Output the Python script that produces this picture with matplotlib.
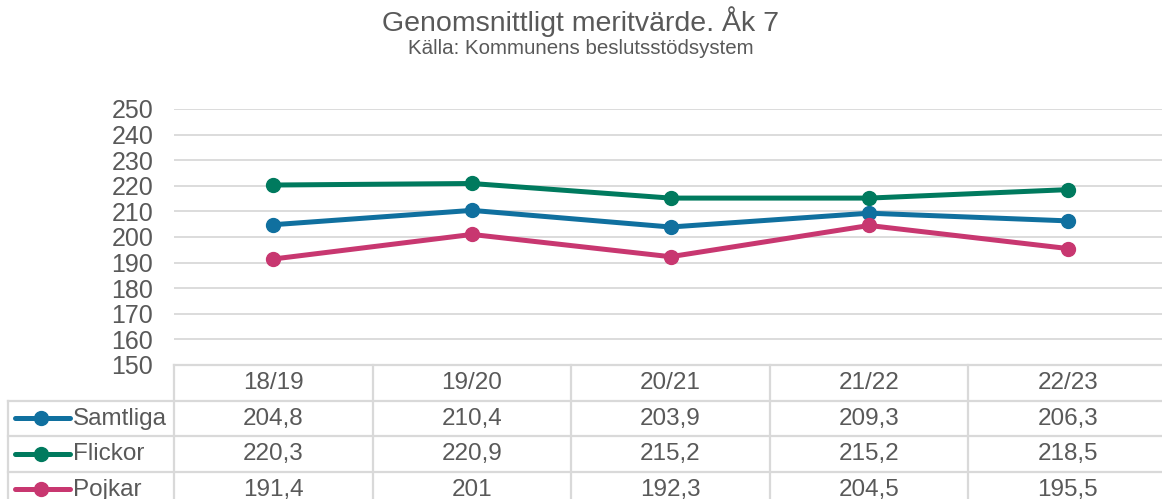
import matplotlib
matplotlib.use('Agg')
import matplotlib.pyplot as plt

plt.rcParams['font.family'] = ['Liberation Sans', 'DejaVu Sans']

years = ['18/19', '19/20', '20/21', '21/22', '22/23']
samtliga = [204.8, 210.4, 203.9, 209.3, 206.3]
flickor = [220.3, 220.9, 215.2, 215.2, 218.5]
pojkar = [191.4, 201, 192.3, 204.5, 195.5]
series_names = ['Samtliga', 'Flickor', 'Pojkar']
colors = ['#10709F', '#007A5E', '#C83770']

txt = '#595959'
grid = '#D9D9D9'

W, H = 1162, 499
fig = plt.figure(figsize=(W / 100, H / 100), dpi=100)

# plot area in pixels
left_px, right_px = 174, 1167
top_px, bot_px = 109, 365
ax = fig.add_axes([left_px / W, (H - bot_px) / H, (right_px - left_px) / W, (bot_px - top_px) / H])

x = list(range(len(years)))
for vals, c in zip([samtliga, flickor, pojkar], colors):
    ax.plot(x, vals, color=c, lw=3.6, marker='o', ms=10, solid_capstyle='round')

ax.set_xlim(-0.5, len(years) - 0.5)
ax.set_ylim(150, 250)
ax.set_yticks(range(150, 251, 10))
ax.set_xticks([])
ax.yaxis.grid(True, color=grid, lw=1.3)
ax.set_axisbelow(True)
for s in ax.spines.values():
    s.set_visible(False)
ax.tick_params(axis='y', length=0, pad=15, labelsize=18, labelcolor=txt)

# data table underneath
col_w = (right_px - left_px) / len(years)
tab_left_px = 8
row_h = 35.5
n_rows = 4
tax = fig.add_axes([tab_left_px / W, (H - bot_px - n_rows * row_h) / H,
                    (right_px - tab_left_px) / W, n_rows * row_h / H])
xl = -0.5 - (left_px - tab_left_px) / col_w
tax.set_xlim(xl, len(years) - 0.5)
tax.set_ylim(n_rows, 0)
tax.axis('off')

lk = dict(color=grid, lw=1.6, clip_on=False)
tax.plot([-0.5, len(years) - 0.5], [0, 0], **lk)
for r in range(1, n_rows + 1):
    tax.plot([xl, len(years) - 0.5], [r, r], **lk)
for i in range(len(years) + 1):
    tax.plot([i - 0.5, i - 0.5], [0, n_rows], **lk)
tax.plot([xl, xl], [1, n_rows], **lk)

fs = 17.5
for i, y in enumerate(years):
    tax.text(i, 0.52, y, ha='center', va='center', fontsize=fs, color=txt)

def fmt(v):
    return f'{v:g}'.replace('.', ',')

def px2x(px):
    return (px - left_px) / col_w - 0.5

for r, (name, vals, c) in enumerate(zip(series_names, [samtliga, flickor, pojkar], colors), start=1):
    for i, v in enumerate(vals):
        tax.text(i, r + 0.52, fmt(v), ha='center', va='center', fontsize=fs, color=txt)
    tax.plot([px2x(15), px2x(70)], [r + 0.5, r + 0.5], color=c, lw=3.6, solid_capstyle='round')
    tax.plot([px2x(41)], [r + 0.5], marker='o', ms=10, color=c)
    tax.text(px2x(73), r + 0.52, name, ha='left', va='center', fontsize=fs, color=txt)

fig.text(0.5, 1 - 31 / H, 'Genomsnittligt meritvärde. Åk 7', ha='center', va='baseline',
         fontsize=20.5, color=txt)
fig.text(0.5, 1 - 53.5 / H, 'Källa: Kommunens beslutsstödsystem', ha='center', va='baseline',
         fontsize=14.8, color=txt)

fig.savefig('out.png', dpi=100)
